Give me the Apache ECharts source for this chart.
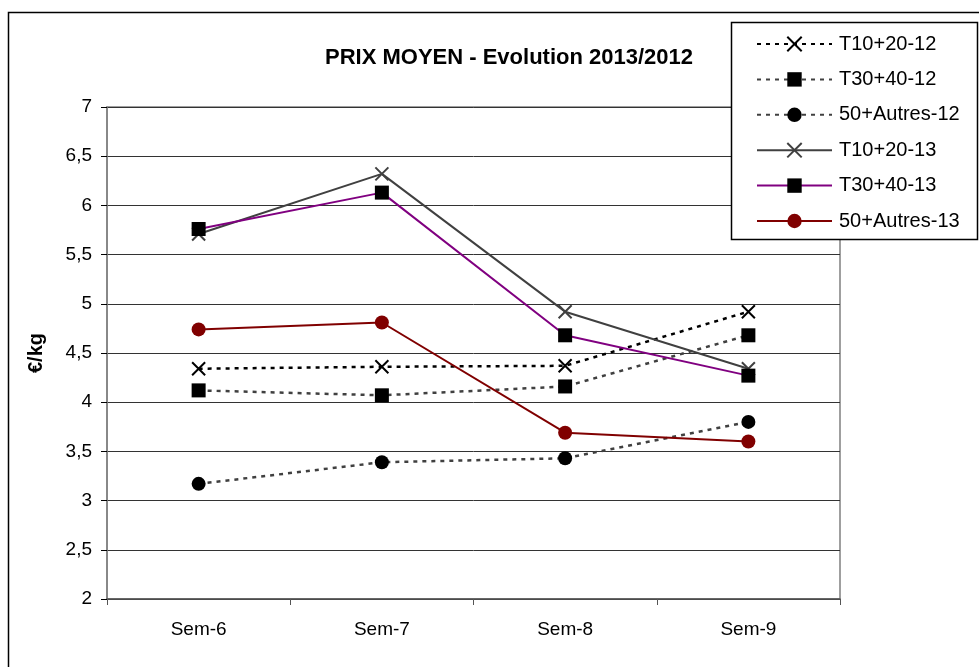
<!DOCTYPE html>
<html><head><meta charset="utf-8">
<script src="https://cdn.jsdelivr.net/npm/echarts@6/dist/echarts.min.js"></script>
<style>html,body{margin:0;padding:0;background:#fff}#c{width:979px;height:667px}</style>
</head><body><div id="c"></div>
<script>
var categories = ['Sem-6', 'Sem-7', 'Sem-8', 'Sem-9'];
var t1020_12 = [4.34, 4.36, 4.37, 4.92];
var t3040_12 = [4.12, 4.07, 4.16, 4.68];
var autres_12 = [3.17, 3.39, 3.43, 3.80];
var t1020_13 = [5.71, 6.32, 4.92, 4.34];
var t3040_13 = [5.76, 6.13, 4.68, 4.27];
var autres_13 = [4.74, 4.81, 3.69, 3.60];
var seriesNames = ['T10+20-12', 'T30+40-12', '50+Autres-12', 'T10+20-13', 'T30+40-13', '50+Autres-13'];
var yTicks = {min: 2, max: 7, interval: 0.5};

var X = 'path://M0,0L10,10M10,0L0,10';
function mk(name, data, color, lineColor, dashed, symbol, size, stroke) {
  return {
    name: name, type: 'line', data: data, symbol: symbol, symbolSize: size,
    lineStyle: {color: lineColor, width: dashed ? 2.5 : 2, type: dashed ? [4, 5] : 'solid'},
    itemStyle: stroke ? {color: color, borderColor: color, borderWidth: 2} : {color: color, borderWidth: 0},
    emphasis: {disabled: true}, animation: false, z: dashed ? 2 : 3
  };
}
var chart = echarts.init(document.getElementById('c'));
chart.setOption({
  backgroundColor: '#fff',
  animation: false,
  title: {text: 'PRIX MOYEN - Evolution 2013/2012', left: 504, top: 42, textAlign: 'center',
    textStyle: {fontFamily: 'Liberation Sans', fontWeight: 'bold', fontSize: 22, color: '#000'}},
  graphic: [
    {type: 'rect', shape: {x: 8.5, y: 12.5, width: 1000, height: 700}, style: {fill: 'none', stroke: '#000', lineWidth: 1.5}, z: 0},
    {type: 'rect', shape: {x: 731.5, y: 22.5, width: 246, height: 217}, style: {fill: '#fff', stroke: '#000', lineWidth: 1.5}, z: 10}
  ],
  legend: {
    orient: 'vertical', left: 751, top: 29, itemWidth: 75, itemHeight: 18, itemGap: 15.4,
    z: 20, selectedMode: false,
    textStyle: {fontFamily: 'Liberation Sans', fontSize: 20, color: '#000', padding: [0, 0, 0, 2]},
    data: seriesNames
  },
  grid: {left: 107, right: 139, top: 107, bottom: 68, show: true, borderColor: '#808080', borderWidth: 1.5, containLabel: false},
  xAxis: {type: 'category', data: categories, boundaryGap: true,
    axisLine: {lineStyle: {color: '#555', width: 1.5}},
    axisTick: {show: true, length: 6, lineStyle: {color: '#555'}},
    axisLabel: {fontFamily: 'Liberation Sans', fontSize: 19, color: '#000', margin: 21}},
  yAxis: {type: 'value', min: yTicks.min, max: yTicks.max, interval: yTicks.interval,
    name: '€/kg', nameLocation: 'middle', nameGap: 61, nameRotate: 90,
    nameTextStyle: {fontFamily: 'Liberation Sans', fontWeight: 'bold', fontSize: 20, color: '#000'},
    axisLine: {show: true, lineStyle: {color: '#808080', width: 1.5}},
    axisTick: {show: true, length: 6, lineStyle: {color: '#000'}},
    splitLine: {lineStyle: {color: '#333', width: 1}},
    axisLabel: {fontFamily: 'Liberation Sans', fontSize: 19, color: '#000', margin: 15,
      formatter: function (v) { return String(v).replace('.', ','); }}},
  series: [
    mk(seriesNames[0], t1020_12, '#000', '#000', true, X, 13, true),
    mk(seriesNames[1], t3040_12, '#000', '#404040', true, 'rect', 14, false),
    mk(seriesNames[2], autres_12, '#000', '#404040', true, 'circle', 14, false),
    mk(seriesNames[3], t1020_13, '#404040', '#404040', false, X, 13, true),
    mk(seriesNames[4], t3040_13, '#000', '#800080', false, 'rect', 14, false),
    mk(seriesNames[5], autres_13, '#800000', '#800000', false, 'circle', 14, false)
  ]
});
</script></body></html>
